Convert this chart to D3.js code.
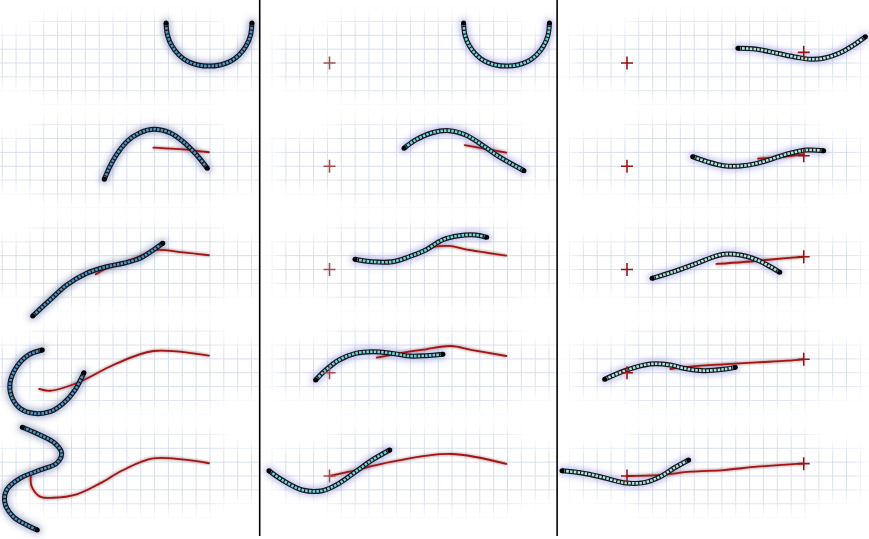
<!DOCTYPE html>
<html><head><meta charset="utf-8">
<script src="https://cdn.jsdelivr.net/npm/d3@7"></script>
<style>html,body{margin:0;padding:0;background:#fff;}svg{display:block;}</style>
</head><body>
<svg id="c" width="869" height="539"></svg>
<script>
// ---- data (grid units, origin = start cross, y up) ----
const semicircleChain = [[9.68,2.89],[9.78,2.02],[10.11,1.23],[10.61,0.58],[11.26,0.11],[11.99,-0.14],[12.78,-0.22],[13.57,-0.14],[14.30,0.11],[14.95,0.58],[15.45,1.23],[15.78,2.02],[15.88,2.89]];

const chainPanel1 = [
  semicircleChain,
  [[5.22,-0.94],[5.87,0.45],[6.84,1.77],[7.80,2.42],[8.81,2.67],[9.96,2.42],[10.92,1.77],[11.89,0.81],[12.66,-0.15]],
  [[0.05,-3.36],[1.30,-2.20],[2.51,-1.12],[3.95,-0.27],[5.39,0.20],[6.59,0.45],[7.80,0.81],[8.76,1.41],[9.44,1.89]],
  [[0.74,1.64],[-0.27,1.28],[-1.10,0.44],[-1.59,-0.76],[-1.47,-1.73],[-0.87,-2.57],[0.09,-2.93],[1.30,-2.81],[2.26,-2.21],[3.10,-1.25],[3.75,0.00]],
  [[-0.70,3.52],[0.58,2.96],[1.66,2.36],[2.14,1.64],[1.78,0.92],[0.58,0.43],[-0.87,-0.17],[-1.83,-1.01],[-1.95,-1.97],[-1.35,-2.94],[-0.38,-3.54],[0.38,-3.90]]
];
const targetPanel1 = [
  [],
  [[8.76,1.34],[11.41,1.17],[12.78,1.01]],
  [[4.60,-0.35],[5.39,0.09],[6.84,0.56],[8.28,1.17],[9.00,1.41],[10.92,1.24],[12.78,1.03]],
  [[0.51,-1.17],[1.30,-1.30],[3.47,-0.65],[5.87,0.56],[8.76,1.57],[12.78,1.23]],
  [[-0.09,0.02],[-0.02,-0.77],[0.58,-1.49],[1.54,-1.57],[3.23,-1.32],[4.91,-0.53],[6.59,0.43],[8.76,1.28],[12.78,0.92]]
];

const chainPanel2 = [
  semicircleChain,
  [[5.38,1.30],[6.22,1.90],[7.42,2.42],[8.63,2.57],[9.83,2.26],[11.03,1.53],[12.24,0.69],[14.04,-0.32]],
  [[1.84,0.74],[3.09,0.56],[4.53,0.56],[5.74,0.92],[6.95,1.41],[8.14,2.13],[9.35,2.44],[10.56,2.49],[11.35,2.32]],
  [[-1.00,-0.52],[-0.27,0.20],[0.69,0.92],[1.89,1.40],[3.09,1.52],[4.53,1.40],[5.74,1.21],[6.95,1.23],[8.19,1.33]],
  [[-4.37,0.38],[-3.41,-0.29],[-1.96,-1.01],[-0.52,-1.06],[0.69,-0.53],[1.89,0.31],[3.09,1.16],[4.35,1.88]]
];
const targetPanel2 = [
  [],
  [[9.76,1.53],[12.77,0.98]],
  [[7.18,1.60],[8.63,1.70],[9.83,1.46],[12.77,1.00]],
  [[3.41,1.09],[5.02,1.40],[6.95,1.69],[8.75,1.93],[10.31,1.64],[12.77,1.21]],
  [[0,0],[1.41,0.31],[4.53,1.03],[8.75,1.59],[12.77,0.87]]
];

const chainPanel3 = [
  [[8.01,1.06],[9.39,0.99],[10.83,0.70],[12.27,0.41],[13.23,0.27],[14.20,0.34],[15.40,0.74],[16.37,1.30],[17.21,1.90]],
  [[4.74,0.69],[5.78,0.33],[6.98,0.04],[8.18,0.02],[9.39,0.21],[10.59,0.57],[11.79,0.94],[13.00,1.17],[14.20,1.12]],
  [[1.81,-0.64],[3.37,-0.16],[5.05,0.45],[6.26,0.92],[6.98,1.10],[8.18,1.05],[9.39,0.69],[10.35,0.20],[11.03,-0.20]],
  [[-1.61,-0.47],[0.00,0.20],[1.68,0.63],[3.13,0.56],[4.09,0.32],[5.54,0.15],[6.98,0.25],[7.82,0.39]],
  [[-4.69,0.38],[-3.37,0.24],[-1.93,-0.05],[-0.24,-0.48],[1.21,-0.48],[2.40,-0.05],[3.37,0.56],[4.45,1.16]]
];
const targetPanel3 = [
  [],
  [[9.46,0.55],[11.31,0.69],[12.77,0.86]],
  [[6.45,0.40],[8.43,0.54],[10.59,0.74],[12.77,0.92]],
  [[3.13,0.27],[4.57,0.44],[6.98,0.61],[9.39,0.75],[11.55,0.87],[12.77,0.97]],
  [[0,0],[2.40,0.07],[4.57,0.31],[6.98,0.43],[9.39,0.67],[11.79,0.84],[12.77,0.89]]
];

const startCross = [0, 0];
const goalCrosses = [[12.76,0.77],[12.76,0.76],[12.76,0.92],[12.76,0.97],[12.76,0.89]];

const chains = [chainPanel1, chainPanel2, chainPanel3];
const targets = [targetPanel1, targetPanel2, targetPanel3];
const showStart = [false, true, true];
const showGoal = [false, false, true];
const beadColors = ["#4f92c6", "#72d2d8", "#a9e3d9"];
const glowColors = ["#4a5a9a", "#6a6ad8", "#7a7ae0"];
const crossColors = ["#a02020", "#a05050", "#9c1414"];

// ---- layout ----
const W = 869, H = 539, CELL = 13.85, PANEL_DX = 297.5, ROW_DY = 103.25;
const ORIGIN = [32, 63];
const panelClip = [[0, 259], [260.6, 556.4], [557.8, 869]];

const svg = d3.select("#c");
const defs = svg.append("defs");

const glow = defs.append("filter").attr("id","glow").attr("x","-30%").attr("y","-60%").attr("width","160%").attr("height","220%");
glow.append("feGaussianBlur").attr("stdDeviation", 3);
const soft = defs.append("filter").attr("id","soft").attr("x","-20%").attr("y","-50%").attr("width","140%").attr("height","200%");
soft.append("feGaussianBlur").attr("stdDeviation", 1.2);
const mblur = defs.append("filter").attr("id","mblur").attr("x","-50%").attr("y","-100%").attr("width","200%").attr("height","300%");
mblur.append("feGaussianBlur").attr("stdDeviation", 8);
const gblur = defs.append("filter").attr("id","gblur");
gblur.append("feGaussianBlur").attr("stdDeviation", 0.35);

svg.append("rect").attr("width", W).attr("height", H).attr("fill", "#fff");

panelClip.forEach((c, p) => {
  defs.append("clipPath").attr("id", "clip" + p)
    .append("rect").attr("x", c[0]).attr("y", 0).attr("width", c[1] - c[0]).attr("height", H);
});

for (let p = 0; p < 3; p++) {
  const gp = svg.append("g").attr("clip-path", `url(#clip${p})`);
  for (let r = 0; r < 5; r++) {
    const ox = ORIGIN[0] + p * PANEL_DX, oy = ORIGIN[1] + r * ROW_DY;
    const x = d3.scaleLinear().domain([0, 1]).range([ox, ox + CELL]);
    const y = d3.scaleLinear().domain([0, 1]).range([oy, oy - CELL]);
    const line = d3.line().x(d => x(d[0])).y(d => y(d[1])).curve(d3.curveCatmullRom.alpha(0.5));
    const g = gp.append("g");

    // grid mask
    const mid = `m${p}_${r}`;
    const mask = defs.append("mask").attr("id", mid).attr("maskUnits", "userSpaceOnUse")
      .attr("x", x(-8)).attr("y", y(6)).attr("width", x(20) - x(-8)).attr("height", y(-5) - y(6));
    const mg = mask.append("g").attr("filter", "url(#mblur)");
    mg.append("rect").attr("x", x(-3.9)).attr("y", y(2.0)).attr("width", x(16.9) - x(-3.9)).attr("height", y(-1.4) - y(2.0)).attr("fill", "#fff");
    mg.append("rect").attr("x", x(0.2)).attr("y", y(3.2)).attr("width", x(13.4) - x(0.2)).attr("height", y(-2.4) - y(3.2)).attr("fill", "#fff");

    const grid = g.append("g").attr("mask", `url(#${mid})`);
    const gl = grid.append("g").attr("stroke", "#d9dfeb").attr("stroke-width", 1).attr("filter", "url(#gblur)");
    d3.range(-6, 20).forEach(k => {
      gl.append("line").attr("x1", x(k - 0.15)).attr("x2", x(k - 0.15)).attr("y1", y(4.5)).attr("y2", y(-3.6));
    });
    d3.range(-3, 5).forEach(k => {
      gl.append("line").attr("y1", y(k)).attr("y2", y(k)).attr("x1", x(-6)).attr("x2", x(19));
    });

    // chain glow
    const chainData = chains[p][r];
    g.append("path").attr("d", line(chainData)).attr("fill", "none")
      .attr("stroke", glowColors[p]).attr("stroke-width", 9).attr("stroke-opacity", 0.45)
      .attr("stroke-linecap", "round").attr("filter", "url(#glow)");

    // red target
    const t = targets[p][r];
    if (t.length > 1) {
      g.append("path").attr("d", line(t)).attr("fill", "none").attr("stroke", "#500")
        .attr("stroke-width", 3.5).attr("stroke-opacity", 0.3).attr("filter", "url(#soft)");
      g.append("path").attr("d", line(t)).attr("fill", "none").attr("stroke", "#a51515")
        .attr("stroke-width", 1.8).attr("stroke-linecap", "round");
    }

    const drawCross = (pt, col) => {
      const cx = x(pt[0]), cy = y(pt[1]);
      g.append("path").attr("d", `M${cx - 6},${cy}H${cx + 6}M${cx},${cy - 6.5}V${cy + 6.5}`)
        .attr("stroke", col).attr("stroke-width", 1.6).attr("fill", "none");
    };

    // chain body
    const outline = g.append("path").attr("d", line(chainData)).attr("fill", "none")
      .attr("stroke", "#15181c").attr("stroke-width", 5).attr("stroke-linecap", "butt");
    const L = outline.node().getTotalLength();
    const N = Math.round(L / 3.7);
    const pitch = L / N;
    g.append("path").attr("d", line(chainData)).attr("fill", "none")
      .attr("stroke", beadColors[p]).attr("stroke-width", 2.6)
      .attr("stroke-dasharray", `${pitch * 0.68} ${pitch * 0.32}`)
      .attr("stroke-dashoffset", -pitch * 0.16);
    [chainData[0], chainData[chainData.length - 1]].forEach(d => {
      g.append("circle").attr("cx", x(d[0])).attr("cy", y(d[1])).attr("r", 2.5).attr("fill", "#000");
    });

    if (showStart[p]) drawCross(startCross, crossColors[p]);
    if (showGoal[p]) drawCross(goalCrosses[r], crossColors[p]);
  }
}

// separators
[259.7, 557.1].forEach(sx => {
  svg.append("line").attr("x1", sx).attr("x2", sx).attr("y1", 0).attr("y2", 536)
    .attr("stroke", "#000").attr("stroke-width", 1.6);
});
</script>
</body></html>
